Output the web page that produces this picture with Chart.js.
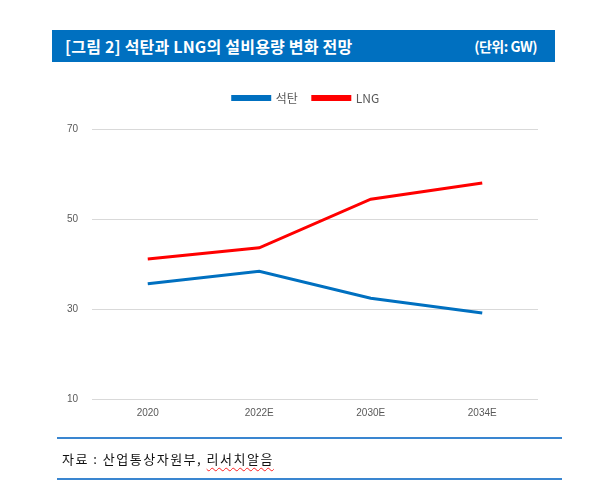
<!DOCTYPE html>
<html>
<head>
<meta charset="utf-8">
<script src="https://cdn.jsdelivr.net/npm/chart.js@4"></script>
<style>
  html, body { margin:0; padding:0; background:#fff; }
  #wrap { position:relative; width:602px; height:503px; overflow:hidden; }
  #chart { position:absolute; left:0; top:0; }
  .hdr { position:absolute; left:52px; top:30px; width:503px; height:32px; background:#0070c0; color:#fff;
         font-family:"Noto Sans CJK KR","Noto Sans",sans-serif; font-weight:bold; font-size:16px; line-height:32px; }
  .hdr .t { position:absolute; left:13px; top:0; letter-spacing:0.2px; }
  .hdr .u { position:absolute; right:18px; top:0; font-size:14px; letter-spacing:-0.5px; }
  .rule { position:absolute; left:57px; width:505px; height:2px; background:#3a86d0; }
  .src { position:absolute; left:62px; top:449px; font-family:"Noto Sans CJK KR",sans-serif; font-size:13px; color:#111; letter-spacing:1.5px; }
  .src .sq { text-decoration: underline wavy #ff2020; text-decoration-thickness:1px; text-underline-offset:3px; }
</style>
</head>
<body>
<div id="wrap">
  <canvas id="chart" width="602" height="503"></canvas>
  <div class="hdr"><span class="t">[그림 2] 석탄과 LNG의 설비용량 변화 전망</span><span class="u">(단위: GW)</span></div>
  <div class="rule" style="top:437px"></div>
  <div class="src">자료 : 산업통상자원부, <span class="sq">리서치알음</span></div>
  <div class="rule" style="top:478px"></div>
</div>
<script>
const categories = ["2020", "2022E", "2030E", "2034E"];
const coal = [35.6, 38.4, 32.4, 29.1];
const lng = [41.1, 43.6, 54.4, 58.0];
const yTicks = [10, 30, 50, 70];
const seriesNames = ["석탄", "LNG"];

const legendTweak = {
  id: 'legendTweak',
  beforeInit(chart) {
    const fit = chart.legend.fit;
    chart.legend.fit = function () { fit.bind(chart.legend)(); this.height += 15; };
  },
  afterLayout(chart) {
    chart.legend.left += 37;
    chart.legend.right += 37;
  }
};

new Chart(document.getElementById('chart'), {
  type: 'line',
  data: {
    labels: categories,
    datasets: [
      { label: seriesNames[0], data: coal, borderColor: '#0070c0', backgroundColor: '#0070c0', borderWidth: 3, pointRadius: 0, tension: 0 },
      { label: seriesNames[1], data: lng, borderColor: '#ff0000', backgroundColor: '#ff0000', borderWidth: 3, pointRadius: 0, tension: 0 }
    ]
  },
  options: {
    responsive: false,
    animation: false,
    layout: { padding: { top: 77, right: 64, bottom: 74, left: 0 } },
    plugins: {
      legend: {
        position: 'top',
        labels: { boxWidth: 37, boxHeight: 3, padding: 15, color: '#595959',
                  font: { family: '"Noto Sans CJK KR", sans-serif', size: 12 } }
      },
      tooltip: { enabled: false }
    },
    scales: {
      x: {
        offset: true,
        grid: { display: false, drawTicks: false },
        border: { display: false },
        ticks: { color: '#595959', padding: 8, font: { family: '"Liberation Sans", Arial, sans-serif', size: 10 } },
        afterFit(s) { s.height = 30; }
      },
      y: {
        min: 10, max: 70,
        afterBuildTicks(s) { s.ticks = yTicks.map(v => ({ value: v })); },
        grid: { color: '#d9d9d9', lineWidth: 1, drawTicks: false },
        border: { display: false },
        ticks: { color: '#595959', padding: 14, font: { family: '"Liberation Sans", Arial, sans-serif', size: 10 } },
        afterFit(s) { s.width = 92; }
      }
    }
  },
  plugins: [legendTweak]
});
</script>
</body>
</html>
